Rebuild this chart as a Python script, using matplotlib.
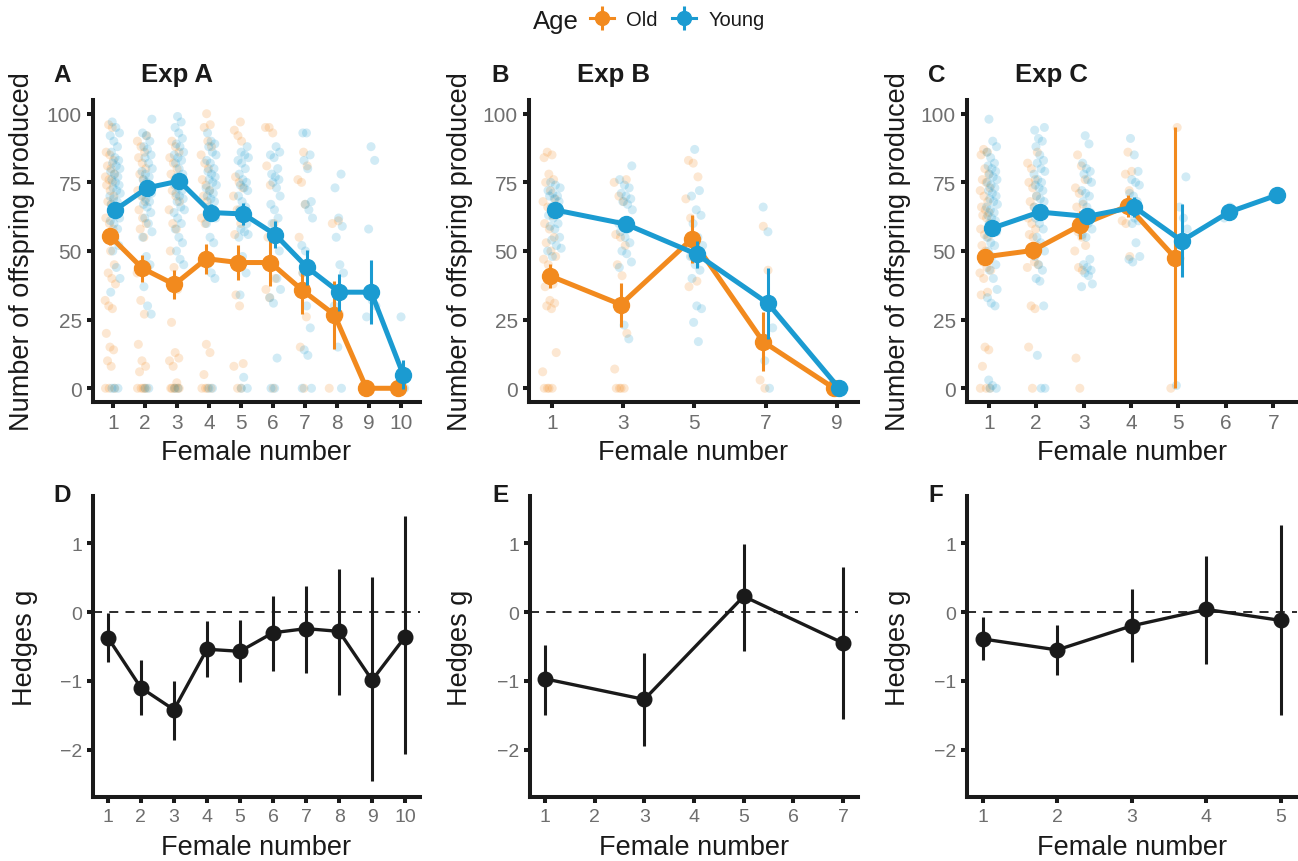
import numpy as np
import matplotlib
matplotlib.use("Agg")
import matplotlib.pyplot as plt
from matplotlib.lines import Line2D

plt.rcParams['font.family'] = ['Liberation Sans', 'DejaVu Sans']

ORANGE = '#F28A1E'
BLUE = '#1B9BD1'
TICKGREY = '#6E6E6E'
DARK = '#1A1A1A'

# ---------------- Experiment A ----------------
A_x = [1, 2, 3, 4, 5, 6, 7, 8, 9, 10]
A_young_mean = [65, 73, 75.5, 64, 63.5, 56, 44, 35, 35, 5]
A_young_err = [2.5, 2.5, 2.5, 3, 4, 5, 6.5, 6.7, 11.6, 5.2]
A_old_mean = [55.3, 43.7, 37.8, 47.2, 45.8, 45.8, 35.7, 26.8, 0, 0]
A_old_err = [3.2, 5, 5.2, 5.5, 6.5, 8.5, 8.7, 12.4, 0, 0]
A_young_raw = [
    [97, 95, 93, 92, 90, 88, 86, 84, 83, 82, 81, 80, 79, 78, 77, 76, 75, 74, 73, 72, 71, 70, 69, 68,
     67, 66, 65, 64, 63, 62, 61, 60, 58, 56, 54, 52, 50, 44, 40, 35, 0, 0, 0],
    [98, 93, 92, 90, 88, 87, 85, 84, 82, 80, 79, 78, 77, 76, 75, 74, 73, 72, 71, 70, 69, 68, 67, 66,
     64, 62, 60, 57, 55, 48, 45, 37, 30, 27, 0, 0],
    [99, 97, 95, 93, 91, 89, 88, 86, 85, 84, 83, 82, 80, 78, 77, 76, 75, 74, 73, 72, 71, 70, 69, 68,
     66, 65, 64, 62, 60, 58, 55, 53, 50, 47, 45, 0, 0],
    [93, 90, 89, 88, 86, 85, 83, 82, 80, 79, 78, 77, 76, 75, 74, 73, 72, 71, 70, 69, 68, 66, 64, 62,
     60, 55, 53, 45, 42, 40, 0, 0],
    [88, 86, 85, 84, 83, 82, 80, 78, 76, 75, 74, 73, 72, 70, 68, 66, 65, 62, 60, 58, 57, 56, 55, 48,
     42, 34, 4, 0, 0],
    [88, 86, 85, 84, 80, 78, 77, 76, 75, 73, 70, 67, 65, 62, 60, 57, 50, 45, 40, 36, 33, 31, 11, 0, 0],
    [93, 93, 85, 83, 80, 68, 67, 65, 62, 52, 50, 45, 42, 30, 22, 14, 12, 0, 0],
    [78, 73, 62, 59, 55, 45, 42, 30, 15, 0],
    [88, 83, 58, 32, 30, 26],
    [26, 0],
]
A_old_raw = [
    [96, 95, 86, 85, 83, 81, 80, 78, 77, 76, 75, 74, 72, 70, 68, 67, 65, 62, 60, 58, 55, 50, 45, 42,
     40, 38, 32, 30, 29, 20, 15, 14, 10, 8, 0, 0, 0],
    [92, 90, 88, 86, 84, 82, 80, 78, 76, 74, 72, 70, 68, 65, 62, 60, 58, 55, 44, 42, 32, 27, 16, 10,
     8, 6, 0, 0, 0, 0, 0],
    [90, 88, 86, 84, 82, 80, 78, 76, 74, 72, 70, 68, 65, 60, 58, 50, 44, 36, 24, 13, 11, 10, 8, 2,
     0, 0, 0, 0, 0, 0],
    [100, 96, 95, 90, 88, 85, 82, 80, 76, 74, 72, 70, 68, 65, 62, 60, 48, 47, 16, 13, 5, 0, 0, 0, 0],
    [97, 94, 92, 90, 77, 75, 73, 70, 65, 60, 56, 47, 45, 34, 30, 9, 8, 0, 0],
    [95, 95, 93, 81, 74, 60, 55, 45, 40, 36, 33, 0],
    [86, 81, 76, 75, 67, 55, 42, 26, 15, 0],
    [61, 60, 36, 27, 0],
    [0, 0],
    [0],
]

# ---------------- Experiment B ----------------
B_x = [1, 3, 5, 7, 9]
B_young_mean = [65, 59.8, 48.8, 30.9, 0]
B_young_err = [2.5, 3, 5, 13, 0]
B_old_mean = [41, 30.5, 54.4, 17, 0]
B_old_err = [4.3, 8, 8.8, 10.8, 0]
B_young_raw = [
    [75, 74, 73, 72, 71, 70, 70, 69, 68, 66, 65, 64, 63, 62, 60, 59, 58, 55, 54, 52, 51, 50, 48],
    [81, 76, 74, 73, 71, 70, 69, 68, 67, 65, 60, 59, 58, 57, 55, 53, 50, 49, 46, 44, 23, 18],
    [87, 72, 70, 65, 63, 60, 55, 52, 48, 45, 43, 40, 30, 29, 24, 17],
    [66, 57, 22, 10, 0],
    [0],
]
B_old_raw = [
    [86, 85, 84, 78, 76, 75, 72, 69, 68, 66, 63, 60, 58, 55, 53, 50, 48, 47, 45, 38, 37, 32, 31, 30,
     29, 13, 6, 0, 0, 0, 0],
    [76, 75, 70, 68, 56, 55, 52, 45, 41, 20, 7, 0, 0, 0, 0],
    [83, 82, 77, 69, 62, 55, 52, 48, 39, 37],
    [59, 43, 3, 0],
    [0],
]

# ---------------- Experiment C ----------------
C_x_young = [1, 2, 3, 4, 5, 6, 7]
C_young_mean = [58.3, 64.2, 62.6, 66, 53.7, 64.2, 70.3]
C_young_err = [2, 2, 2, 3.5, 13.3, 0, 0]
C_x_old = [1, 2, 3, 4, 5]
C_old_mean = [47.9, 50.2, 59.4, 66.4, 47.5]
C_old_err = [2.5, 3, 5, 4, 47.5]
C_young_raw = [
    [98, 90, 88, 86, 84, 82, 81, 80, 79, 78, 77, 76, 75, 74, 73, 72, 71, 70, 69, 68, 67, 66, 65, 64,
     63, 62, 61, 60, 58, 57, 55, 53, 52, 50, 48, 45, 43, 40, 36, 33, 31, 30, 3, 1, 0, 0],
    [95, 94, 91, 90, 88, 85, 83, 82, 80, 79, 78, 76, 75, 74, 73, 72, 70, 69, 68, 66, 65, 64, 62, 60,
     58, 55, 53, 50, 48, 45, 43, 40, 39, 30, 12, 0, 0],
    [92, 89, 82, 80, 79, 78, 76, 75, 72, 71, 70, 68, 66, 64, 62, 60, 58, 56, 55, 47, 45, 44, 43, 42,
     41, 38, 37],
    [91, 85, 79, 76, 75, 74, 71, 70, 68, 66, 62, 61, 60, 53, 48, 47, 46],
    [77, 66, 62, 58, 1],
    [66, 64, 62],
    [70],
]
C_old_raw = [
    [87, 86, 85, 80, 78, 76, 75, 73, 72, 70, 68, 66, 65, 64, 63, 62, 60, 58, 56, 55, 52, 50, 48, 46,
     44, 43, 42, 40, 35, 34, 15, 14, 8, 0, 0, 0],
    [86, 82, 80, 76, 75, 73, 70, 68, 66, 65, 62, 60, 58, 56, 55, 52, 50, 46, 45, 44, 30, 29, 15, 0],
    [85, 81, 76, 73, 71, 67, 66, 63, 60, 57, 55, 52, 50, 44, 43, 11, 0],
    [86, 79, 78, 72, 66, 61, 60, 48],
    [95, 0],
]

# ---------------- Hedges g ----------------
D_x = [1, 2, 3, 4, 5, 6, 7, 8, 9, 10]
D_g = [-0.37, -1.10, -1.42, -0.54, -0.57, -0.30, -0.24, -0.28, -0.99, -0.36]
D_lo = [-0.73, -1.50, -1.86, -0.94, -1.02, -0.85, -0.88, -1.20, -2.45, -2.06]
D_hi = [-0.01, -0.70, -1.00, -0.13, -0.11, 0.23, 0.38, 0.63, 0.51, 1.40]

E_x = [1, 3, 5, 7]
E_g = [-0.97, -1.27, 0.23, -0.45]
E_lo = [-1.49, -1.95, -0.56, -1.55]
E_hi = [-0.48, -0.59, 0.99, 0.66]

F_x = [1, 2, 3, 4, 5]
F_g = [-0.39, -0.55, -0.20, 0.04, -0.12]
F_lo = [-0.69, -0.91, -0.73, -0.76, -1.50]
F_hi = [-0.07, -0.19, 0.34, 0.82, 1.27]

W, H = 1298, 862
fig = plt.figure(figsize=(W / 100, H / 100), dpi=100)


def rect(x0, x1, y0, y1):
    return [x0 / W, 1 - y1 / H, (x1 - x0) / W, (y1 - y0) / H]


def style(ax, tick_fs):
    for s in ['top', 'right']:
        ax.spines[s].set_visible(False)
    for s in ['left', 'bottom']:
        ax.spines[s].set_linewidth(2.9)
        ax.spines[s].set_color(DARK)
    ax.tick_params(axis='both', length=4, width=2.9, color=DARK, labelcolor=TICKGREY,
                   labelsize=tick_fs)
    ax.tick_params(axis='x', pad=4)
    ax.tick_params(axis='y', pad=4)


def vdc(n, base, start):
    # van der Corput sequence in [0,1) -- deterministic horizontal spread (jitter positions)
    out = []
    for k in range(start, start + n):
        q, denom, v = k, 1.0, 0.0
        while q > 0:
            denom *= base
            q, r = divmod(q, base)
            v += r / denom
        out.append(v)
    return np.array(out)


def jitter(n, half, start):
    return (vdc(n, 3, start + 1) - 0.5) * 2 * half


def top_panel(ax, xs_y, raw_y, mean_y, err_y, xs_o, raw_o, mean_o, err_o, xlim, jw, dodge, xticks):
    for i, (x, vals) in enumerate(zip(xs_o, raw_o)):
        if len(vals) == 0:
            continue
        xx = x - dodge + jitter(len(vals), jw, 7 * i)
        ax.scatter(xx, vals, s=42, color=ORANGE, alpha=0.2, edgecolors='none', zorder=1)
    for i, (x, vals) in enumerate(zip(xs_y, raw_y)):
        xx = x + dodge + jitter(len(vals), jw, 11 * i + 5)
        ax.scatter(xx, vals, s=42, color=BLUE, alpha=0.2, edgecolors='none', zorder=1)
    xo = np.array(xs_o) - dodge
    xy = np.array(xs_y) + dodge
    ax.errorbar(xo, mean_o, yerr=err_o, color=ORANGE, lw=3.6, elinewidth=2.2, capsize=0,
                marker='o', ms=11.5, zorder=3)
    ax.errorbar(xy, mean_y, yerr=err_y, color=BLUE, lw=3.6, elinewidth=2.2, capsize=0,
                marker='o', ms=11.5, zorder=4)
    ax.set_xlim(*xlim)
    ax.set_ylim(-5, 105)
    ax.set_yticks([0, 25, 50, 75, 100])
    ax.set_xticks(xticks)
    style(ax, 15)
    ax.set_ylabel('Number of offspring produced', fontsize=19.5, color=DARK)
    ax.set_xlabel('Female number', fontsize=19.5, color=DARK)


def bottom_panel(ax, x, g, lo, hi, xlim, xticks):
    ax.axhline(0, color=DARK, lw=1.3, ls=(0, (5, 4)), zorder=1)
    g = np.array(g)
    yerr = [g - np.array(lo), np.array(hi) - g]
    ax.errorbar(x, g, yerr=yerr, color=DARK, lw=2.4, elinewidth=2.2, capsize=0,
                marker='o', ms=10.5, zorder=3)
    ax.set_xlim(*xlim)
    ax.set_ylim(-2.69, 1.69)
    ax.set_yticks([-2, -1, 0, 1])
    ax.set_xticks(xticks)
    style(ax, 14)
    ax.set_ylabel('Hedges g', fontsize=19.5, color=DARK)
    ax.set_xlabel('Female number', fontsize=19.5, color=DARK)


axA = fig.add_axes(rect(93, 420, 101, 403))
axB = fig.add_axes(rect(529, 858, 101, 403))
axC = fig.add_axes(rect(967, 1297, 101, 403))
axD = fig.add_axes(rect(93, 420, 497, 798))
axE = fig.add_axes(rect(530, 858, 497, 798))
axF = fig.add_axes(rect(967, 1297, 497, 798))

top_panel(axA, A_x, A_young_raw, A_young_mean, A_young_err, A_x, A_old_raw, A_old_mean, A_old_err,
          (0.38, 10.6), 0.17, 0.075, A_x)
top_panel(axB, B_x, B_young_raw, B_young_mean, B_young_err, B_x, B_old_raw, B_old_mean, B_old_err,
          (0.35, 9.6), 0.2, 0.07, B_x)
top_panel(axC, C_x_young, C_young_raw, C_young_mean, C_young_err, C_x_old, C_old_raw, C_old_mean,
          C_old_err, (0.54, 7.5), 0.12, 0.07, C_x_young)

bottom_panel(axD, D_x, D_g, D_lo, D_hi, (0.55, 10.45), D_x)
bottom_panel(axE, E_x, E_g, E_lo, E_hi, (0.7, 7.3), [1, 2, 3, 4, 5, 6, 7])
bottom_panel(axF, F_x, F_g, F_lo, F_hi, (0.79, 5.22), F_x)

for ax, (l, r, t, b), ylx in [
    (axA, (93, 420, 101, 403), 22), (axB, (529, 858, 101, 403), 460), (axC, (967, 1297, 101, 403), 898),
    (axD, (93, 420, 497, 798), 25), (axE, (530, 858, 497, 798), 460), (axF, (967, 1297, 497, 798), 898)]:
    ax.yaxis.set_label_coords(-(l - ylx) / (r - l), 0.5)
    ax.yaxis.label.set_va('center')
    ax.xaxis.set_label_coords(0.5, -50 / (b - t))
    ax.xaxis.label.set_va('center')

for letter, lx, by in [('A', 53, 82), ('B', 491, 82), ('C', 928, 82),
                       ('D', 53, 502), ('E', 492, 502), ('F', 928, 502)]:
    fig.text(lx / W, 1 - by / H, letter, fontsize=17.5, fontweight='bold', color=DARK, va='baseline')
for title, tx in [('Exp A', 141), ('Exp B', 577), ('Exp C', 1015)]:
    fig.text(tx / W, 1 - 82 / H, title, fontsize=18.5, fontweight='bold', color=DARK, va='baseline')

fig.text(533 / W, 1 - 29 / H, 'Age', fontsize=18.5, color=DARK, va='baseline')
handles = []
for c in [ORANGE, BLUE]:
    h1 = Line2D([], [], color=c, lw=2.2, marker='o', ms=10)
    h2 = Line2D([], [], color=c, lw=0, marker='|', ms=17, mew=2.2)
    handles.append((h1, h2))
fig.legend(handles, ['Old', 'Young'], loc='center left', bbox_to_anchor=(590 / W, 1 - 21 / H),
           ncol=2, frameon=False, fontsize=14.5, handlelength=1.2, handletextpad=0.6,
           columnspacing=0.7, borderpad=0, borderaxespad=0, labelcolor=DARK)

fig.savefig('out.png', dpi=100)
